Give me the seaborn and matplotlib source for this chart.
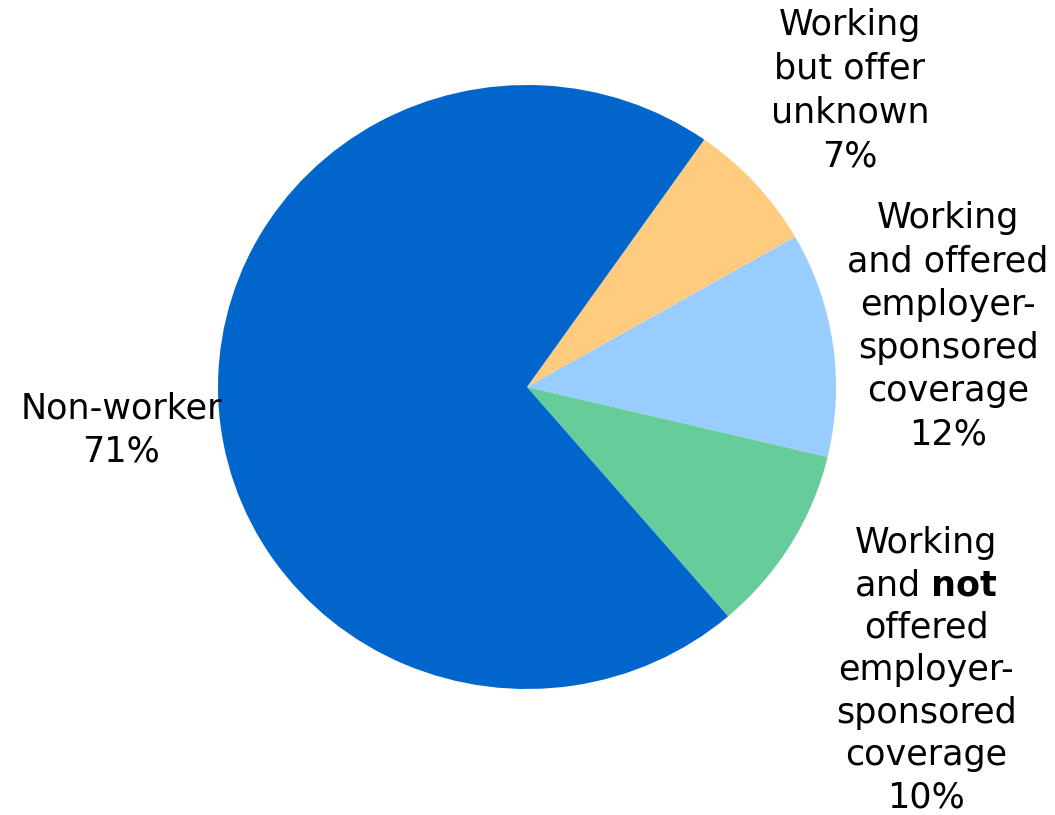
import matplotlib
matplotlib.use("Agg")
import matplotlib.pyplot as plt
import seaborn as sns

sns.set_theme(style="white")
plt.rcParams['font.family'] = ['DejaVu Sans']

# Data
categories = ["Working but offer unknown",
              "Working and offered employer-sponsored coverage",
              "Working and not offered employer-sponsored coverage",
              "Non-worker"]
shares = [7, 12, 10, 71]
colors = ["#FFCC7F", "#99CCFF", "#66CC99", "#0066CC"]

label_lines = [
    ["Working", "but offer", "unknown", "7%"],
    ["Working", "and offered", "employer-", "sponsored", "coverage", "12%"],
    ["Working", "and $\\mathbf{not}$", "offered", "employer-", "sponsored", "coverage", "10%"],
    ["Non-worker", "71%"],
]
# label anchor: (center x px, first baseline y px, line height px)
label_anchor = [(850, 35, 43.8), (948, 228, 43.3), (926, 553, 42.4), (121, 418, 44.0)]

W, H = 1055, 815
fig = plt.figure(figsize=(W / 100, H / 100), dpi=100)
cx, cy, rx, ry = 527, 387, 309, 302
ax = fig.add_axes([(cx - rx) / W, (H - cy - ry) / H, 2 * rx / W, 2 * ry / H])
ax.pie(shares, colors=colors, startangle=55, counterclock=False,
       wedgeprops=dict(linewidth=0, edgecolor="none"))
ax.set_aspect("auto")
ax.set_xlim(-1, 1)
ax.set_ylim(-1, 1)
ax.axis("off")

for lines, (x, y0, lh) in zip(label_lines, label_anchor):
    for i, ln in enumerate(lines):
        y = y0 + i * lh
        fig.text(x / W, 1 - y / H, ln, ha="center", va="baseline",
                 fontsize=25.2, color="black")

fig.savefig("out.png", dpi=100, facecolor="white")
